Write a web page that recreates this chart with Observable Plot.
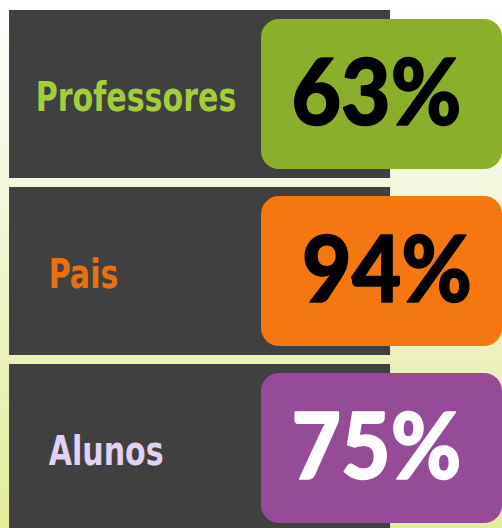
<!DOCTYPE html>
<html>
<head>
<meta charset="utf-8">
<script src="https://cdn.jsdelivr.net/npm/d3@7"></script>
<script src="https://cdn.jsdelivr.net/npm/@observablehq/plot@0.6"></script>
<style>
  html, body { margin: 0; padding: 0; background: #fff; }
  #chart svg { display: block; }
</style>
</head>
<body>
<div id="chart"></div>
<script>
// Data
const categories = ["Professores", "Pais", "Alunos"];
const values = [63, 94, 75];
const boxColors = ["#8caf2a", "#f5770f", "#964b99"];
const labelColors = ["#a5cc3a", "#e8700f", "#e2d1f0"];
const valueColors = ["#000000", "#000000", "#ffffff"];

const rows = categories.map((c, i) => ({
  category: c,
  value: values[i],
  label: `${values[i]}%`,
  box: boxColors[i],
  labelColor: labelColors[i],
  valueColor: valueColors[i]
}));

const W = 502, H = 528;

const chart = Plot.plot({
  width: W,
  height: H,
  margin: 0,
  x: {domain: [0, 1], range: [0, W], axis: null},
  y: {domain: categories, range: [10, 532], paddingInner: 0.051, paddingOuter: 0, axis: null},
  style: {
    background: "linear-gradient(to bottom, #ffffff 0%, #f4f7de 35%, #e3eb9e 100%)",
    overflow: "visible"
  },
  marks: [
    // dark panels
    Plot.barX(rows, {y: "category", x1: 0.018, x2: 0.777, fill: "#404040"}),
    // coloured value boxes
    Plot.barX(rows, {
      y: "category", x1: 0.52, x2: 1.0, fill: "box",
      insetTop: 9, insetBottom: 9, rx: 18
    }),
    // category labels
    Plot.text(rows, {
      y: "category",
      x: (d, i) => i === 0 ? 0.07 : 0.096,
      text: "category",
      fill: "labelColor",
      textAnchor: "start",
      dy: 4,
      fontFamily: "'DejaVu Sans Condensed', 'DejaVu Sans', sans-serif",
      fontWeight: "bold",
      fontSize: 40
    }),
    // values
    Plot.text(rows, {
      y: "category",
      x: (d, i) => i === 1 ? 0.77 : 0.749,
      text: "label",
      fill: "valueColor",
      stroke: "valueColor",
      strokeWidth: 1.5,
      textAnchor: "middle",
      dy: 1,
      fontFamily: "Lato, 'Open Sans', sans-serif",
      fontWeight: 900,
      fontSize: 92
    })
  ]
});

// condense text horizontally (the original uses condensed display faces)
const groups = chart.querySelectorAll('g[aria-label="text"]');
const squeeze = [0.836, 0.93];
groups.forEach((g, gi) => {
  g.querySelectorAll("text").forEach(t => {
    const tr = t.getAttribute("transform") || "";
    t.setAttribute("transform", `${tr} scale(${squeeze[gi]},1)`);
  });
});

document.getElementById("chart").appendChild(chart);
</script>
</body>
</html>
